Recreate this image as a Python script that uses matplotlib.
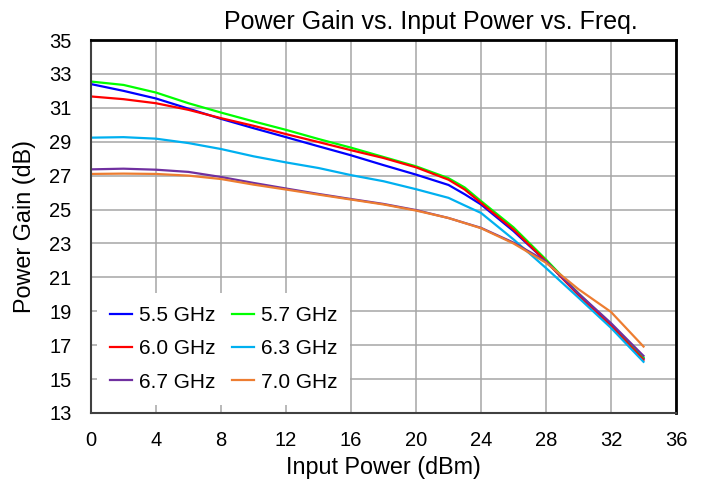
import matplotlib
matplotlib.use("Agg")
import matplotlib.pyplot as plt

plt.rcParams['font.family'] = ['Liberation Sans', 'DejaVu Sans']

x_a = [0, 2, 4, 6, 8, 10, 12, 14, 16, 18, 20, 22, 23, 24, 26, 28, 30, 32, 34]
x_b = [0, 2, 4, 6, 8, 10, 12, 14, 16, 18, 20, 22, 24, 26, 28, 30, 32, 34]

g55 = [32.4, 32.0, 31.55, 30.95, 30.35, 29.8, 29.27, 28.73, 28.2, 27.62, 27.06, 26.45, 25.9, 25.3, 23.73, 21.95, 20.0, 18.15, 16.2]
g57 = [32.55, 32.35, 31.9, 31.27, 30.72, 30.2, 29.7, 29.16, 28.65, 28.1, 27.55, 26.85, 26.3, 25.5, 23.95, 22.05, 20.05, 18.2, 16.27]
g60 = [31.67, 31.51, 31.27, 30.88, 30.39, 29.94, 29.45, 28.98, 28.5, 28.04, 27.49, 26.76, 26.18, 25.39, 23.82, 21.95, 19.95, 18.15, 16.13]
g63 = [29.24, 29.27, 29.18, 28.92, 28.57, 28.14, 27.78, 27.45, 27.03, 26.67, 26.2, 25.69, 25.24, 24.8, 23.24, 21.55, 19.8, 18.02, 16.02]
g67 = [27.37, 27.41, 27.35, 27.22, 26.92, 26.57, 26.24, 25.92, 25.62, 25.33, 24.97, 24.5, 23.92, 23.05, 21.95, 20.05, 18.3, 16.37]
g70 = [27.1, 27.12, 27.1, 27.0, 26.8, 26.47, 26.18, 25.88, 25.59, 25.3, 24.94, 24.5, 23.9, 23.0, 21.86, 20.3, 18.96, 16.92]

labels = ["5.5 GHz", "5.7 GHz", "6.0 GHz", "6.3 GHz", "6.7 GHz", "7.0 GHz"]
colors = ["#0000FF", "#00FF00", "#FF0000", "#00B0F0", "#7030A0", "#ED7D31"]
xticks = list(range(0, 37, 4))
yticks = list(range(13, 36, 2))

fig = plt.figure(figsize=(7.03, 4.79), dpi=100)
ax = fig.add_axes([91/703, 1-413/479, (676-91)/703, (413-40)/479])

series = [(x_a, g55), (x_a, g57), (x_a, g60), (x_a, g63), (x_b, g67), (x_b, g70)]
handles = []
for (xs, ys), lab, c in zip(series, labels, colors):
    h, = ax.plot(xs, ys, color=c, lw=1.6, label=lab)
    handles.append(h)

ax.set_xlim(0, 36)
ax.set_ylim(13, 35)
ax.set_xticks(xticks)
ax.set_yticks(yticks)
ax.grid(True, color="#A6A6A6", lw=1.1)
ax.set_axisbelow(True)
ax.tick_params(axis="x", length=0, labelsize=14.5, pad=13)
ax.tick_params(axis="y", length=0, labelsize=14.5, pad=14)
for s in ["top", "right"]:
    ax.spines[s].set_color("black")
    ax.spines[s].set_linewidth(2)
for s in ["left", "bottom"]:
    ax.spines[s].set_color("#404040")
    ax.spines[s].set_linewidth(1.5)

ax.set_xlabel("Input Power (dBm)", fontsize=16.8)
ax.xaxis.set_label_coords(0.5, (413 - 456) / 373)
ax.set_ylabel("Power Gain (dB)", fontsize=16.8)
ax.yaxis.set_label_coords((36 - 91) / 585, 0.5)
fig.text(431/703, 1-22/479, "Power Gain vs. Input Power vs. Freq.", fontsize=18,
         ha="center", va="center")

order = [0, 2, 4, 1, 3, 5]
leg = ax.legend([handles[i] for i in order], [labels[i] for i in order],
                ncol=2, loc="upper left", bbox_to_anchor=((97 - 91) / 585, (413 - 293) / 373),
                frameon=True, fontsize=15, handlelength=1.06, handletextpad=0.34,
                columnspacing=0.77, labelspacing=0.69, borderpad=0.62, borderaxespad=0)
leg.get_frame().set_edgecolor("none")
leg.get_frame().set_facecolor("white")
leg.get_frame().set_alpha(1)
leg.get_frame().set_boxstyle("square", pad=0)

fig.savefig("out.png", dpi=100)
